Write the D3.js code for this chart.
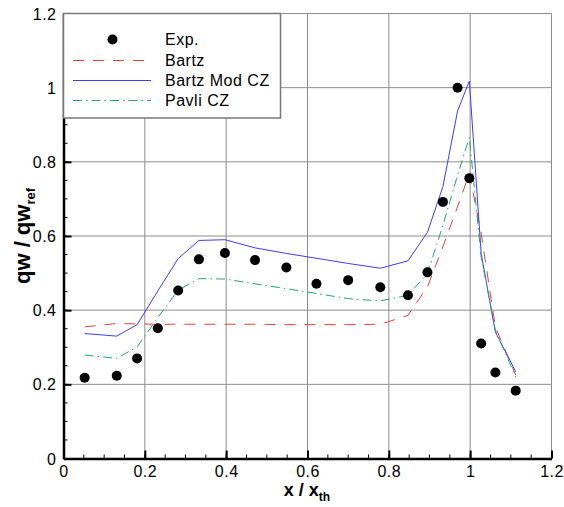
<!DOCTYPE html>
<html>
<head>
<meta charset="utf-8">
<script src="https://cdn.jsdelivr.net/npm/d3@7"></script>
<style>
  body { margin: 0; background: #fff; }
  text { font-family: "Liberation Sans", Arial, sans-serif; }
</style>
</head>
<body>
<div id="chart"></div>
<script>
const W = 564, H = 507;
const margin = { top: 13.5, right: 12.5, bottom: 48.5, left: 63.5 };

// experimental points
const expX = [0.052, 0.131, 0.181, 0.232, 0.282, 0.333, 0.397, 0.471, 0.548, 0.622,
              0.700, 0.779, 0.847, 0.895, 0.933, 0.969, 0.998, 1.027, 1.062, 1.112];
const expY = [0.218, 0.223, 0.270, 0.351, 0.453, 0.537, 0.554, 0.535, 0.515, 0.471,
              0.481, 0.462, 0.440, 0.502, 0.692, 1.000, 0.756, 0.310, 0.232, 0.183];

// model curves, sampled at the same stations
const modelX = expX;
const bartzY = [0.355, 0.364, 0.363, 0.362, 0.362, 0.362, 0.362, 0.362, 0.361, 0.361,
                0.361, 0.362, 0.386, 0.463, 0.571, 0.679, 0.769, 0.607, 0.355, 0.225];
const bartzModY = [0.337, 0.330, 0.361, 0.452, 0.539, 0.588, 0.590, 0.568, 0.553, 0.540,
                   0.526, 0.513, 0.533, 0.610, 0.733, 0.937, 1.018, 0.553, 0.341, 0.234];
const pavliY = [0.279, 0.270, 0.301, 0.380, 0.454, 0.485, 0.484, 0.471, 0.458, 0.445,
                0.431, 0.425, 0.440, 0.499, 0.629, 0.764, 0.866, 0.544, 0.346, 0.220];

const xTicks = [0, 0.2, 0.4, 0.6, 0.8, 1, 1.2];
const yTicks = [0, 0.2, 0.4, 0.6, 0.8, 1, 1.2];
const minorTicks = d3.range(0, 1.2001, 0.05);

const series = [
    { name: "Bartz", values: bartzY, color: "#e8403c", dash: "11,9" },
    { name: "Bartz Mod CZ", values: bartzModY, color: "#3c3cff", dash: null },
    { name: "Pavli CZ", values: pavliY, color: "#22a868", dash: "9,4,1.5,4" },
];

const svg = d3.select("#chart").append("svg")
    .attr("width", W)
    .attr("height", H);

const iw = W - margin.left - margin.right;
const ih = H - margin.top - margin.bottom;

const x = d3.scaleLinear().domain([0, 1.2]).range([margin.left, margin.left + iw]);
const y = d3.scaleLinear().domain([0, 1.2]).range([margin.top + ih, margin.top]);

// grid
const grid = svg.append("g").attr("stroke", "#8c8c8c").attr("stroke-width", 1);
grid.selectAll(".gx").data(xTicks.slice(1)).enter().append("line")
    .attr("x1", d => x(d)).attr("x2", d => x(d))
    .attr("y1", y(0)).attr("y2", y(1.2));
grid.selectAll(".gy").data(yTicks.slice(1)).enter().append("line")
    .attr("x1", x(0)).attr("x2", x(1.2))
    .attr("y1", d => y(d)).attr("y2", d => y(d));

// minor ticks (inward)
const ticksG = svg.append("g").attr("stroke", "#000").attr("stroke-width", 1);
ticksG.selectAll(".mx").data(minorTicks).enter().append("line")
    .attr("x1", d => x(d)).attr("x2", d => x(d))
    .attr("y1", y(0)).attr("y2", y(0) - 4);
ticksG.selectAll(".my").data(minorTicks).enter().append("line")
    .attr("x1", x(0)).attr("x2", x(0) + 4)
    .attr("y1", d => y(d)).attr("y2", d => y(d));

// major axes with inward ticks
const xAxis = d3.axisBottom(x).tickValues(xTicks).tickSizeInner(-8).tickSizeOuter(0)
    .tickFormat(d => d3.format("")(+d.toFixed(1)));
const yAxis = d3.axisLeft(y).tickValues(yTicks).tickSizeInner(-8).tickSizeOuter(0)
    .tickFormat(d => d3.format("")(+d.toFixed(1)));

const gx = svg.append("g").attr("transform", `translate(0,${y(0)})`).call(xAxis);
const gy = svg.append("g").attr("transform", `translate(${x(0)},0)`).call(yAxis);

[gx, gy].forEach(g => {
    g.select(".domain").attr("stroke", "#000").attr("stroke-width", 2.5);
    g.selectAll(".tick line").attr("stroke", "#000").attr("stroke-width", 2);
    g.selectAll(".tick text")
        .attr("fill", "#000")
        .style("font-size", "16px")
        .style("letter-spacing", "0.5px");
});
gx.selectAll(".tick text").attr("y", 7);
gy.selectAll(".tick text").attr("x", -7).attr("dy", "0.35em");

// lines
const line = d3.line()
    .x((d, i) => x(modelX[i]))
    .y(d => y(d));

svg.append("g").selectAll("path").data(series).enter().append("path")
    .attr("d", d => line(d.values))
    .attr("fill", "none")
    .attr("stroke", d => d.color)
    .attr("stroke-width", 1)
    .attr("stroke-dasharray", d => d.dash);

// experimental dots
svg.append("g").selectAll("circle").data(expY).enter().append("circle")
    .attr("cx", (d, i) => x(expX[i]))
    .attr("cy", d => y(d))
    .attr("r", 5)
    .attr("fill", "#000");

// legend
const lg = svg.append("g");
lg.append("rect")
    .attr("x", x(0))
    .attr("y", y(1.2))
    .attr("width", 280.5 - x(0))
    .attr("height", 118 - y(1.2))
    .attr("fill", "#fff")
    .attr("stroke", "#777")
    .attr("stroke-width", 1.5);

lg.append("circle").attr("cx", 112.5).attr("cy", 39.5).attr("r", 5).attr("fill", "#000");
lg.append("text").attr("x", 165).attr("y", 39.5).attr("dy", "0.35em")
    .style("font-size", "16px").style("letter-spacing", "0.5px").text("Exp.");

series.forEach((s, i) => {
    const ly = 60.5 + i * 20;
    lg.append("line")
        .attr("x1", 73).attr("x2", 151)
        .attr("y1", ly).attr("y2", ly)
        .attr("stroke", s.color)
        .attr("stroke-width", 1)
        .attr("stroke-dasharray", s.dash);
    lg.append("text").attr("x", 165).attr("y", ly).attr("dy", "0.35em")
        .style("font-size", "16px").style("letter-spacing", "0.5px").text(s.name);
});

// axis titles
const xt = svg.append("text")
    .attr("x", 307).attr("y", 496)
    .attr("text-anchor", "middle")
    .style("font-size", "18px").style("font-weight", "bold");
xt.append("tspan").text("x / x");
xt.append("tspan").attr("dy", 5).style("font-size", "12px").text("th");

const yt = svg.append("text")
    .attr("transform", `translate(30,236) rotate(-90)`)
    .attr("text-anchor", "middle")
    .style("font-size", "22px").style("font-weight", "bold");
yt.append("tspan").text("qw / qw");
yt.append("tspan").attr("dy", 5).style("font-size", "13px").text("ref");
</script>
</body>
</html>
